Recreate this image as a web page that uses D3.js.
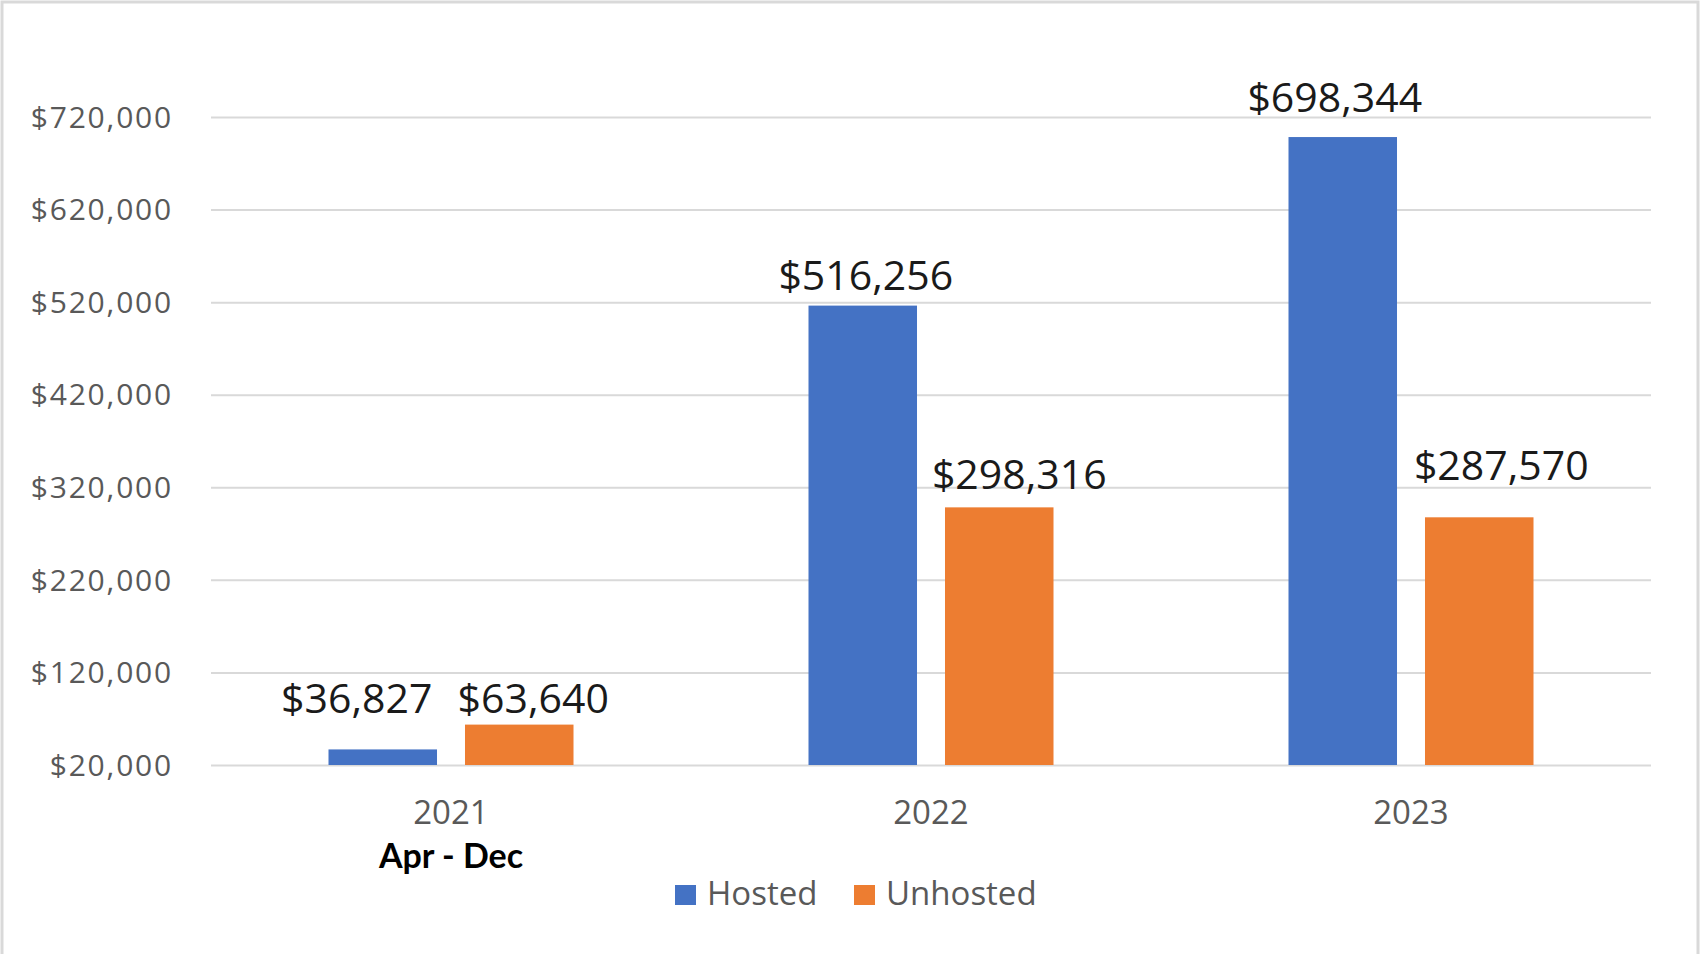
<!DOCTYPE html>
<html>
<head>
<meta charset="utf-8">
<script src="https://cdn.jsdelivr.net/npm/d3@7"></script>
<style>
  body { margin: 0; background: #fff; }
</style>
</head>
<body>
<div id="chart"></div>
<script>
  var years = ["2021", "2022", "2023"];
  var series = ["Hosted", "Unhosted"];
  var hosted = [36827, 516256, 698344];
  var unhosted = [63640, 298316, 287570];
  var yTicks = [20000, 120000, 220000, 320000, 420000, 520000, 620000, 720000];
  var colors = ["#4472C4", "#ED7D31"];

  // hand placed data labels (dx, gap above bar), like the original
  var hostedLbl = [[-26, 36], [3, 16], [-8, 25]];
  var unhostedLbl = [[14, 12], [20, 18], [22, 37]];

  var W = 1701, H = 954;
  var margin = {top: 117, right: 50, bottom: 189, left: 211};
  var width = 1651 - margin.left,
      height = 765 - margin.top;

  var svg = d3.select("#chart")
    .append("svg")
      .attr("width", W)
      .attr("height", H);

  // chart frame
  svg.append("path")
    .attr("d", "M2,960 L2,2 L1698,2 L1698,960")
    .attr("fill", "none")
    .attr("stroke", "#d9d9d9")
    .attr("stroke-width", 3);

  var g = svg.append("g")
    .attr("transform", "translate(" + margin.left + "," + margin.top + ")");

  var x0 = d3.scaleBand().domain(years).range([0, width]);
  var x1 = d3.scaleBand().domain(series).paddingInner(0.205)
    .range([x0.bandwidth() / 2 - 122.5, x0.bandwidth() / 2 + 122.5]);
  var y = d3.scaleLinear().domain([20000, 720000]).range([height, 0]);

  // gridlines + y labels
  var yAxis = g.append("g")
    .call(d3.axisLeft(y).tickValues(yTicks).tickSize(-width)
      .tickFormat(function (d) { return "$" + d3.format(",")(d); }));
  yAxis.select(".domain").remove();
  yAxis.selectAll(".tick line").attr("stroke", "#d9d9d9").attr("stroke-width", 2);
  yAxis.selectAll(".tick text")
    .attr("x", -38)
    .attr("dy", "0.34em")
    .attr("fill", "#595959")
    .style("font-family", "'Open Sans', sans-serif")
    .style("font-size", "30px")
    .style("letter-spacing", "1.8px");

  var data = years.map(function (yr, i) {
    return {year: yr, values: [
      {key: "Hosted", value: hosted[i], dx: hostedLbl[i][0], gap: hostedLbl[i][1]},
      {key: "Unhosted", value: unhosted[i], dx: unhostedLbl[i][0], gap: unhostedLbl[i][1]}
    ]};
  });

  var groups = g.selectAll(".grp")
    .data(data)
    .enter().append("g")
      .attr("transform", function (d) { return "translate(" + x0(d.year) + ",0)"; });

  groups.selectAll("rect")
    .data(function (d) { return d.values; })
    .enter().append("rect")
      .attr("x", function (d) { return x1(d.key); })
      .attr("y", function (d) { return y(d.value); })
      .attr("width", x1.bandwidth())
      .attr("height", function (d) { return height - y(d.value); })
      .attr("fill", function (d, i) { return colors[i]; });

  groups.selectAll(".lbl")
    .data(function (d) { return d.values; })
    .enter().append("text")
      .attr("x", function (d) { return x1(d.key) + x1.bandwidth() / 2 + d.dx; })
      .attr("y", function (d) { return y(d.value) - d.gap; })
      .attr("text-anchor", "middle")
      .attr("fill", "#1a1a1a")
      .style("font-family", "'Open Sans', sans-serif")
      .style("font-size", "41px")
      .text(function (d) { return "$" + d3.format(",")(d.value); });

  // x labels
  g.selectAll(".xl")
    .data(years)
    .enter().append("text")
      .attr("x", function (d) { return x0(d) + x0.bandwidth() / 2; })
      .attr("y", height + 59)
      .attr("text-anchor", "middle")
      .attr("fill", "#595959")
      .style("font-family", "'Open Sans', sans-serif")
      .style("font-size", "33px")
      .text(function (d) { return d; });

  g.append("text")
    .attr("x", x0("2021") + x0.bandwidth() / 2)
    .attr("y", height + 103)
    .attr("text-anchor", "middle")
    .attr("fill", "#000")
    .style("font-family", "Lato, sans-serif")
    .style("font-weight", "bold")
    .style("font-size", "34px")
    .text("Apr - Dec");

  // legend
  var legX = [675, 854];
  var leg = svg.selectAll(".leg")
    .data(series)
    .enter().append("g")
      .attr("transform", function (d, i) { return "translate(" + legX[i] + ",885)"; });
  leg.append("rect")
    .attr("width", 21).attr("height", 20)
    .attr("fill", function (d, i) { return colors[i]; });
  leg.append("text")
    .attr("x", 32)
    .attr("y", 20)
    .attr("fill", "#595959")
    .style("font-family", "'Open Sans', sans-serif")
    .style("font-size", "33px")
    .text(function (d) { return d; });
</script>
</body>
</html>
